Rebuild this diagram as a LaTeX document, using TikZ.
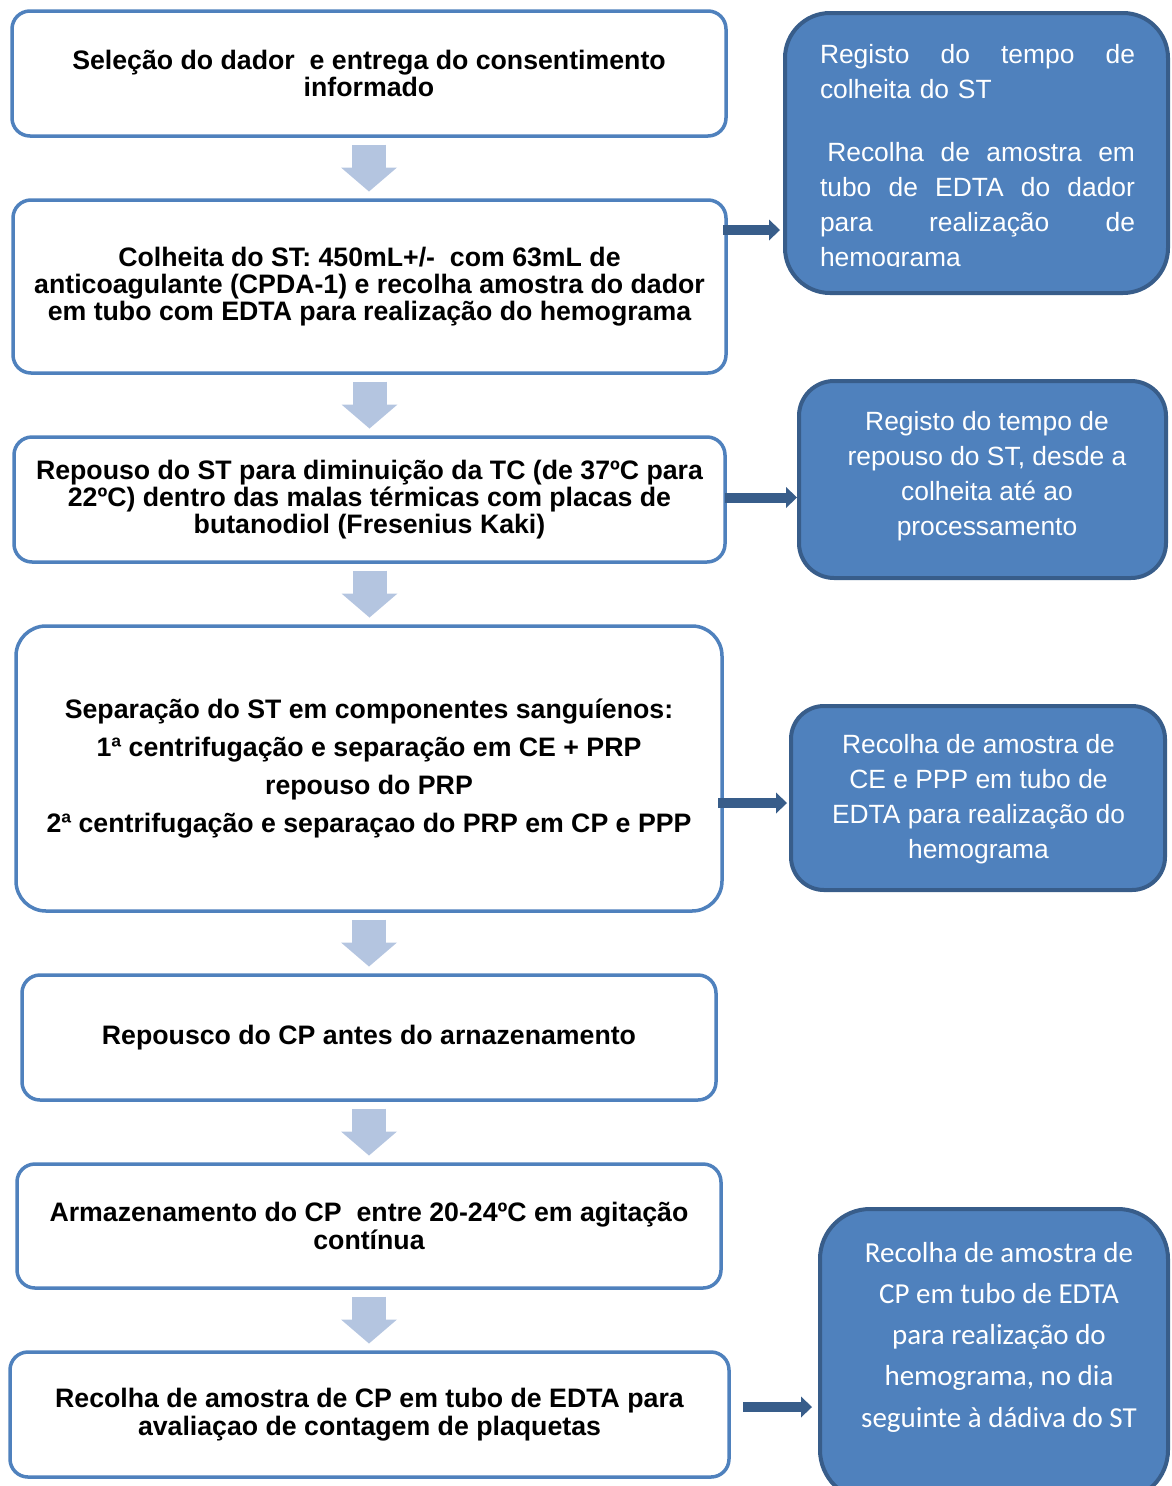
\documentclass[tikz,border=0pt]{standalone}
\usepackage{fontspec}
\setmainfont{Liberation Sans}
\newfontfamily\carlito{Carlito}
\usetikzlibrary{arrows.meta}
\definecolor{lborder}{HTML}{4F81BD}
\definecolor{rfill}{HTML}{4F81BD}
\definecolor{rborder}{HTML}{385D8A}
\definecolor{darr}{HTML}{B4C5E0}
\definecolor{rarr}{HTML}{385D8A}
\begin{document}
\begin{tikzpicture}[x=1pt,y=-1pt,
 lbox/.style={draw=lborder, line width=3.5pt, rounded corners=18pt, fill=white, inner sep=0pt, outer sep=0pt, align=center, font=\bfseries\fontsize{26.7}{27.3}\selectfont},
 rbox/.style={draw=rborder, line width=4pt, fill=rfill, inner sep=0pt, outer sep=0pt},
 rtext/.style={text=white, inner sep=0pt, outer sep=0pt, anchor=north, align=center, font=\fontsize{26.4}{35.2}\selectfont},
 darrow/.style={draw=darr, line width=34pt, -{Triangle[width=56pt,length=24pt,line width=0pt]}, shorten <=8.5pt, shorten >=8.5pt},
 rarrow/.style={draw=rarr, line width=10pt, -{Triangle[width=21pt,length=11pt,line width=0pt]}},
]
\useasboundingbox (0,0) rectangle (1171,1486);

% left boxes
\node[lbox, minimum width=714pt, minimum height=125pt] (b1) at (369,73.5) {Seleção do dador~ e entrega do consentimento\\informado};
\node[lbox, minimum width=713pt, minimum height=173pt] (b2) at (369.5,286.5) {Colheita do ST: 450mL+/-~ com 63mL de\\anticoagulante (CPDA-1) e recolha amostra do dador\\em tubo com EDTA para realização do hemograma};
\node[lbox, minimum width=711pt, minimum height=125pt] (b3) at (369.5,499.5) {Repouso do ST para diminuição da TC (de 37ºC para\\22ºC) dentro das malas térmicas com placas de\\butanodiol (Fresenius Kaki)};
\node[lbox, minimum width=706pt, minimum height=285pt, rounded corners=30pt, font=\bfseries\fontsize{26.7}{38}\selectfont] (b4) at (369,768.5) {Separação do ST em componentes sanguíenos:\\1ª centrifugação e separação em CE + PRP\\repouso do PRP\\2ª centrifugação e separaçao do PRP em CP e PPP};
\node[lbox, minimum width=694pt, minimum height=125pt] (b5) at (369,1037.5) {Repousco do CP antes do arnazenamento};
\node[lbox, minimum width=704pt, minimum height=124pt] (b6) at (369,1226) {Armazenamento do CP~ entre 20-24ºC em agitação\\contínua};
\node[lbox, minimum width=719pt, minimum height=125pt] (b7) at (369.5,1414.5) {Recolha de amostra de CP em tubo de EDTA para\\avaliaçao de contagem de plaquetas};

% down arrows
\draw[darrow] (b1.south) -- (b1.south |- b2.north);
\draw[darrow] (b2.south) -- (b2.south |- b3.north);
\draw[darrow] (b3.south) -- (b3.south |- b4.north);
\draw[darrow] (b4.south) -- (b4.south |- b5.north);
\draw[darrow] (b5.south) -- (b5.south |- b6.north);
\draw[darrow] (b6.south) -- (b6.south |- b7.north);

% right boxes
\node[rbox, rounded corners=45pt, minimum width=383pt, minimum height=280pt] (r1) at (976.5,153) {};
\node[rbox, rounded corners=35pt, minimum width=367pt, minimum height=197pt] (r2) at (982.5,479.5) {};
\node[rbox, rounded corners=33pt, minimum width=374pt, minimum height=184pt] (r3) at (978,798) {};
\node[rbox, rounded corners=50pt, minimum width=348pt, minimum height=291pt] (r4) at (994,1354.5) {};

\begin{scope}
\clip (780,0) rectangle (1171,266.5);
\node[rtext, anchor=north west, align=left, text width=315pt] (r1t) at (820,38) {\rule{0pt}{25pt}\makebox[315pt][l]{Registo\hfill do\hfill tempo\hfill de}\\colheita do ST\\[27.8pt]\makebox[315pt][l]{\hspace{7.3pt}Recolha\hfill de\hfill amostra\hfill em}\\\makebox[315pt][l]{tubo\hfill de\hfill EDTA\hfill do\hfill dador}\\\makebox[315pt][l]{para\hfill realização\hfill de}\\hemograma};
\end{scope}
\node[rtext] (r2t) at (987,405) {\rule{0pt}{25pt}Registo do tempo de\\repouso do ST, desde a\\colheita até ao\\processamento};
\node[rtext] (r3t) at (978.5,728) {\rule{0pt}{25pt}Recolha de amostra de\\CE e PPP em tubo de\\EDTA para realização do\\hemograma};
\node[rtext, font=\carlito\fontsize{29}{41.3}\selectfont] (r4t) at (999,1237) {\rule{0pt}{25pt}Recolha de amostra de\\CP em tubo de EDTA\\para realização do\\hemograma, no dia\\seguinte à dádiva do ST};

% right arrows
\coordinate (y1) at (0,230);
\coordinate (y2) at (0,497.5);
\coordinate (y3) at (0,803);
\coordinate (y4) at (0,1407);
\draw[rarrow, shorten <=-3pt, shorten >=5pt] (b2.east |- y1) -- (r1.west |- y1);
\draw[rarrow, shorten <=0pt, shorten >=2pt] (b3.east |- y2) -- (r2.west |- y2);
\draw[rarrow, shorten <=-4pt, shorten >=4pt] (b4.east |- y3) -- (r3.west |- y3);
\draw[rarrow, shorten <=14pt, shorten >=8pt] (b7.east |- y4) -- (r4.west |- y4);
\end{tikzpicture}
\end{document}
